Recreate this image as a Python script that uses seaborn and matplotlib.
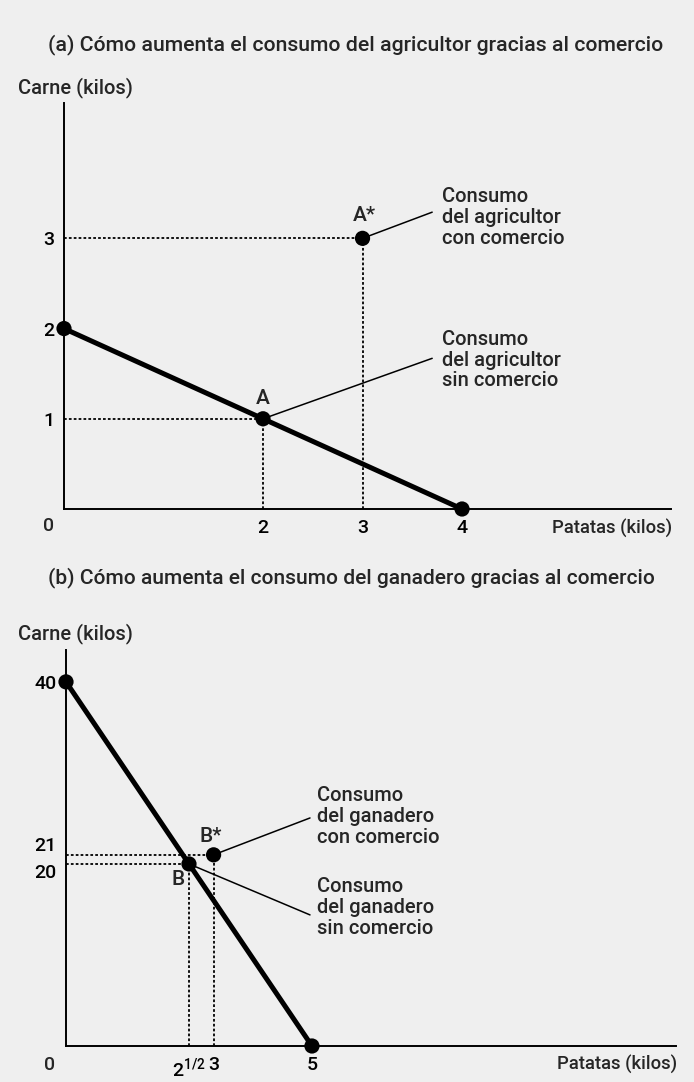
import numpy as np
import pandas as pd
import matplotlib
matplotlib.use('Agg')
import matplotlib.pyplot as plt
import seaborn as sns

# data
ppf_a_x = [0, 4]
ppf_a_y = [2, 0]
pts_a_x = [2, 3]
pts_a_y = [1, 3]
pts_a_lab = ['A', 'A*']

ppf_b_x = [0, 5]
ppf_b_y = [40, 0]
pts_b_x = [2.5, 3]
pts_b_y = [20, 21]
pts_b_lab = ['B', 'B*']

title_a = '(a) Cómo aumenta el consumo del agricultor gracias al comercio'
title_b = '(b) Cómo aumenta el consumo del ganadero gracias al comercio'
ylab = 'Carne (kilos)'
xlab = 'Patatas (kilos)'
note_a = ['Consumo\ndel agricultor\ncon comercio', 'Consumo\ndel agricultor\nsin comercio']
note_b = ['Consumo\ndel ganadero\ncon comercio', 'Consumo\ndel ganadero\nsin comercio']

bg = '#efefef'
sns.set_style('white')
plt.rcParams['font.family'] = ['Roboto', 'Liberation Sans', 'DejaVu Sans']
plt.rcParams['font.weight'] = 'medium'

W, H = 694, 1082
fig = plt.figure(figsize=(W / 100, H / 100), dpi=100, facecolor=bg)


def px_axes(left, top, right, bottom):
    return fig.add_axes([left / W, 1 - bottom / H, (right - left) / W, (bottom - top) / H])


def style(ax, xmax, ymax):
    ax.set_facecolor(bg)
    ax.set_xlim(0, xmax)
    ax.set_ylim(0, ymax)
    for s in ['top', 'right']:
        ax.spines[s].set_visible(False)
    for s in ['left', 'bottom']:
        ax.spines[s].set_linewidth(1.4)
        ax.spines[s].set_color('black')
    ax.tick_params(length=0, labelsize=14, pad=7, labelcolor='black')
    ax.set_xlabel('')
    ax.set_ylabel('')


def guides(ax, xs, ys):
    for x, y in zip(xs, ys):
        ax.plot([0, x], [y, y], color='black', ls=(0, (1.5, 1.2)), lw=1.3, zorder=2)
        ax.plot([x, x], [0, y], color='black', ls=(0, (1.5, 1.2)), lw=1.3, zorder=2)


def note(ax, text, xy, end, txt_xy):
    ax.annotate('', xy=xy, xytext=end,
                arrowprops=dict(arrowstyle='-', lw=1.1, color='black', shrinkA=0, shrinkB=4))
    ax.text(txt_xy[0], txt_xy[1], text, ha='left', va='center', fontsize=14.5,
            linespacing=1.12)


# ---- panel (a)
ax1 = px_axes(64, 103, 671, 509)
guides(ax1, pts_a_x, pts_a_y)
sns.lineplot(x=ppf_a_x, y=ppf_a_y, color='black', lw=3.6, ax=ax1, zorder=3)
sns.scatterplot(x=[ppf_a_x[0], ppf_a_x[1]] + pts_a_x, y=[ppf_a_y[0], ppf_a_y[1]] + pts_a_y,
                color='black', s=120, edgecolor='none', ax=ax1, zorder=4, clip_on=False)
style(ax1, 6.1, 4.5)
ax1.set_xticks([2, 3, 4])
ax1.set_yticks([1, 2, 3])
ax1.text(2.0, 1.23, pts_a_lab[0], ha='center', va='center', fontsize=15)
ax1.text(3.02, 3.25, pts_a_lab[1], ha='center', va='center', fontsize=15)
note(ax1, note_a[0], (3, 3), (3.70, 3.29), (3.80, 3.23))
note(ax1, note_a[1], (2, 1), (3.70, 1.67), (3.80, 1.65))

# ---- panel (b)
ax2 = px_axes(66, 650, 676, 1046)
guides(ax2, pts_b_x, pts_b_y)
sns.lineplot(x=ppf_b_x, y=ppf_b_y, color='black', lw=3.6, ax=ax2, zorder=3)
sns.scatterplot(x=[ppf_b_x[0], ppf_b_x[1]] + pts_b_x, y=[ppf_b_y[0], ppf_b_y[1]] + pts_b_y,
                color='black', s=120, edgecolor='none', ax=ax2, zorder=4, clip_on=False)
style(ax2, 12.4, 43.5)
ax2.set_xticks([2.5, 3, 5])
ax2.set_xticklabels([r'$\mathregular{2^{1/2}}$', '3', '5'])
ax2.set_yticks([20, 21, 40])
ax2.set_yticklabels(['20', '21', '40'])
yl = ax2.get_yticklabels()
yl[0].set_va('top')
yl[1].set_va('bottom')
yl[1].set_y(20.4)
ax2.text(2.28, 18.3, pts_b_lab[0], ha='center', va='center', fontsize=15)
ax2.text(2.95, 23.0, pts_b_lab[1], ha='center', va='center', fontsize=15)
note(ax2, note_b[0], (3, 21), (4.96, 25.05), (5.10, 25.2))
note(ax2, note_b[1], (2.5, 20), (4.96, 14.4), (5.10, 15.2))

# ---- texts around the axes
fig.text(48 / W, 1 - 45 / H, title_a, ha='left', va='center', fontsize=15.3)
fig.text(48 / W, 1 - 578 / H, title_b, ha='left', va='center', fontsize=15.1)
fig.text(18 / W, 1 - 88 / H, ylab, ha='left', va='center', fontsize=14.5)
fig.text(18 / W, 1 - 634 / H, ylab, ha='left', va='center', fontsize=14.5)
fig.text(672 / W, 1 - 528 / H, xlab, ha='right', va='center', fontsize=13.3)
fig.text(677 / W, 1 - 1065 / H, xlab, ha='right', va='center', fontsize=13.3)
fig.text(49 / W, 1 - 526 / H, '0', ha='center', va='center', fontsize=14)
fig.text(50 / W, 1 - 1065 / H, '0', ha='center', va='center', fontsize=14)

fig.savefig('out.png', dpi=100, facecolor=bg)
